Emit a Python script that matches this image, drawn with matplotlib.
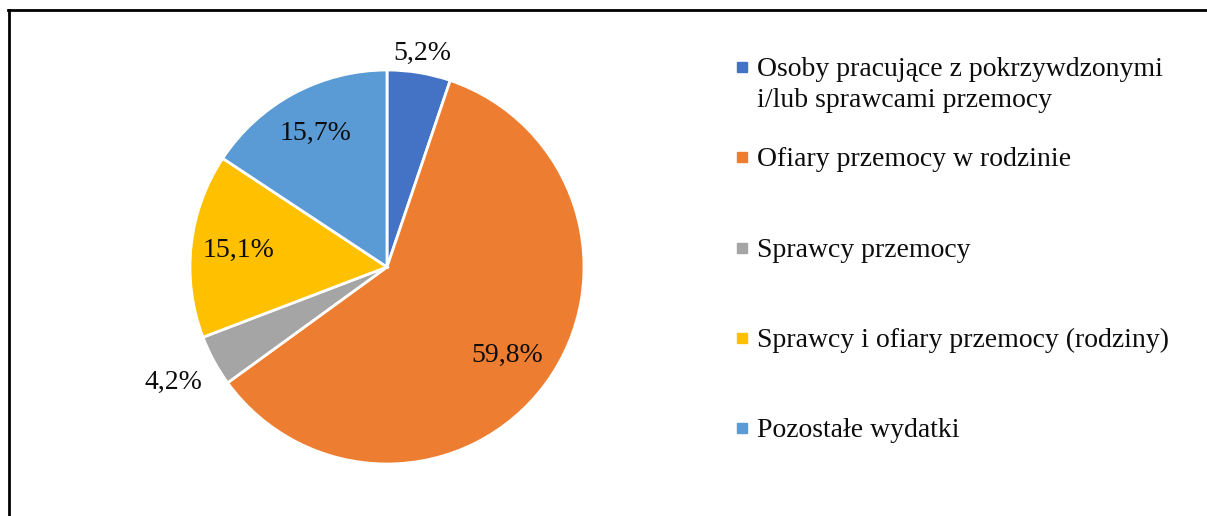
import matplotlib
matplotlib.use("Agg")
import matplotlib.pyplot as plt
from matplotlib.lines import Line2D
from matplotlib.patches import Rectangle
import numpy as np

# shares of spending per target group (percent)
groups = [
    "Osoby pracujące z pokrzywdzonymi\ni/lub sprawcami przemocy",
    "Ofiary przemocy w rodzinie",
    "Sprawcy przemocy",
    "Sprawcy i ofiary przemocy (rodziny)",
    "Pozostałe wydatki",
]
shares = [5.2, 59.8, 4.2, 15.1, 15.7]
colors = ["#4472C4", "#ED7D31", "#A5A5A5", "#FFC000", "#5B9BD5"]
# how far from the centre each percentage label sits (in radii)
label_dist = [1.10, 0.76, 1.23, 0.76, 0.77]

plt.rcParams["font.family"] = ["Liberation Serif", "DejaVu Serif"]
W, H = 1207, 516
fig = plt.figure(figsize=(W / 100, H / 100), dpi=100)

# pie axes: centre (387, 267) px, radius 197 px
cx, cy, r = 387, 267, 197
ax = fig.add_axes([(cx - r) / W, (H - cy - r) / H, 2 * r / W, 2 * r / H])
wedges, _ = ax.pie(shares, colors=colors, startangle=90, counterclock=False,
                   wedgeprops=dict(edgecolor="white", linewidth=2))
ax.set_xlim(-1, 1)
ax.set_ylim(-1, 1)
ax.set_aspect("equal")

for w, v, d in zip(wedges, shares, label_dist):
    ang = np.deg2rad((w.theta1 + w.theta2) / 2)
    ax.text(d * np.cos(ang), d * np.sin(ang), f"{v:.1f}%".replace(".", ","),
            ha="center", va="center", fontsize=20, color="#0d0d0d")

# legend drawn by hand so the marker sits on the first line of the label
for i, (lab, c) in enumerate(zip(groups, colors)):
    ym = 67 + i * 90.3
    fig.patches.append(Rectangle(((742 - 5) / W, 1 - (ym + 5) / H), 10 / W, 10 / H,
                                 transform=fig.transFigure, color=c))
    for j, line in enumerate(lab.split("\n")):
        fig.text(757 / W, 1 - (ym + 9 + j * 31) / H, line, ha="left", va="baseline",
                 fontsize=20, color="#0d0d0d")

# frame (only top and left edges visible)
fig.add_artist(Line2D([7.5 / W, 1], [1 - 9.5 / H, 1 - 9.5 / H], color="black",
                      linewidth=2, transform=fig.transFigure))
fig.add_artist(Line2D([8.5 / W, 8.5 / W], [0, 1 - 9.5 / H], color="black",
                      linewidth=2, transform=fig.transFigure))

fig.savefig("out.png", dpi=100)
